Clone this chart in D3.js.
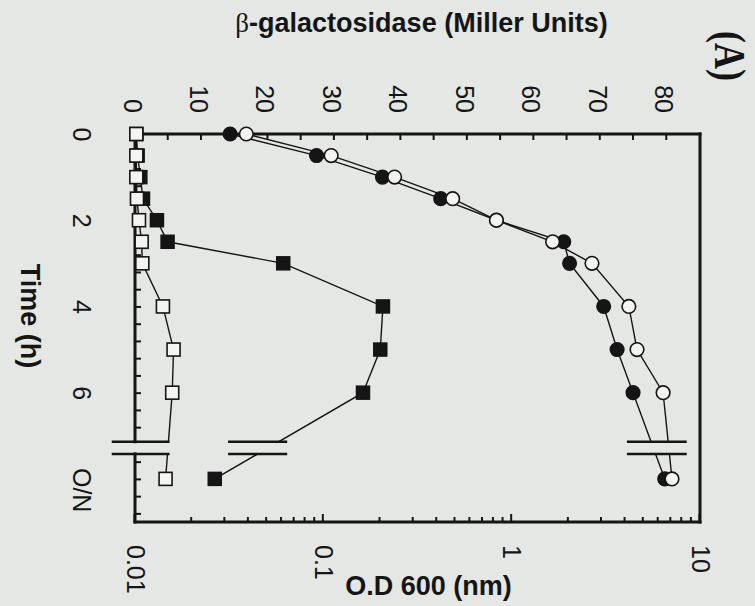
<!DOCTYPE html>
<html><head><meta charset="utf-8">
<script src="https://cdn.jsdelivr.net/npm/d3@7"></script>
<style>html,body{margin:0;padding:0;background:#e4e7e3;} svg{display:block;}</style>
</head><body>
<svg id="chart" width="755" height="606"></svg>
<script>
// ---- data ----
const times = [0, 0.5, 1, 1.5, 2, 2.5, 3, 4, 5, 6, 8];          // 8 = O/N
const odFilled = [0.032, 0.092, 0.206, 0.42, 0.83, 1.89, 2.03, 3.08, 3.63, 4.41, 6.5];
const odOpen   = [0.039, 0.110, 0.239, 0.486, 0.83, 1.65, 2.67, 4.19, 4.63, 6.37, 7.1];
const galFilled = [0.2, 0.4, 0.8, 1.2, 3.3, 4.9, 22.3, 37.3, 36.9, 34.3, 12.0];
const galOpen   = [0.2, 0.2, 0.2, 0.3, 0.6, 1.0, 1.1, 4.2, 5.8, 5.6, 4.6];
const timeLabels = ["0", "2", "4", "6", "O/N"];
const timeLabelPos = [0, 2, 4, 6, 8.25];
const galTickLabels = [0, 10, 20, 30, 40, 50, 60, 70, 80];
const odTickLabels = ["0.01", "0.1", "1", "10"];
const odMajor = [0.01, 0.1, 1, 10];

// ---- layout (original, unrotated orientation) ----
const svg = d3.select("#chart");
const g = svg.append("g").attr("transform", "translate(755,0) rotate(90)");
const L = 134, R = 522, T = 55, B = 620;
const xTime = d3.scaleLinear().domain([0, 9]).range([L, R]);
const yGal = d3.scaleLinear().domain([0, 85]).range([B, T]);
const yOD = d3.scaleLog().domain([0.01, 10]).range([B, T]);
const brA = 7.14, brB = 7.42;
const ink = "#151515";
const fontSans = "'Liberation Sans', Arial, sans-serif";

// clip for axis break
const defs = svg.append("defs");
const cp = defs.append("clipPath").attr("id", "brk");
cp.append("rect").attr("x", -100).attr("y", -100).attr("width", xTime(brA) + 100).attr("height", 1000);
cp.append("rect").attr("x", xTime(brB)).attr("y", -100).attr("width", 1000).attr("height", 1000);

// frame
const fw = 3;
const frame = g.append("g").attr("stroke", ink).attr("stroke-width", fw).attr("fill", "none").attr("stroke-linecap", "square");
frame.append("line").attr("x1", L).attr("x2", L).attr("y1", T).attr("y2", B);
frame.append("line").attr("x1", R).attr("x2", R).attr("y1", T).attr("y2", B);
frame.append("line").attr("x1", L).attr("x2", R).attr("y1", T).attr("y2", T);
frame.append("line").attr("x1", L).attr("x2", xTime(brA)).attr("y1", B).attr("y2", B);
frame.append("line").attr("x1", xTime(brB)).attr("x2", R).attr("y1", B).attr("y2", B);

// β-gal axis (left)
const galAxis = d3.axisLeft(yGal).tickValues(d3.range(0, 81, 5)).tickSize(-6).tickPadding(21)
  .tickFormat(d => galTickLabels.includes(d) ? String(d) : "");
const ga = g.append("g").attr("transform", `translate(${L},0)`).call(galAxis);
ga.select(".domain").remove();
ga.selectAll(".tick line").attr("stroke", ink).attr("stroke-width", 2);
ga.selectAll(".tick text").attr("y", 3).style("font-family", fontSans).style("font-size", "25px").attr("fill", ink);

// OD axis (right, log)
const odMinor = [];
[0.01, 0.1, 1].forEach(dec => { for (let k = 2; k <= 9; k++) odMinor.push(k * dec); });
const odAxis = d3.axisRight(yOD).tickValues(odMajor.concat(odMinor)).tickSize(-5).tickPadding(23)
  .tickFormat(d => { const i = odMajor.indexOf(d); return i >= 0 ? odTickLabels[i] : ""; });
const oa = g.append("g").attr("transform", `translate(${R},0)`).call(odAxis);
oa.select(".domain").remove();
oa.selectAll(".tick line").attr("stroke", ink).attr("stroke-width", 2)
  .attr("x2", d => odMajor.includes(d) ? -8 : -5);
oa.selectAll(".tick text").style("font-family", fontSans).style("font-size", "25px").attr("fill", ink);

// time axis (bottom)
const timeTickPos = d3.range(0, 18).map(i => i * 0.4).concat([19, 20, 21, 22].map(i => i * 0.4));
const ta = g.append("g").attr("transform", `translate(0,${B})`)
  .call(d3.axisBottom(xTime).tickValues(timeTickPos).tickSize(-6).tickFormat(""));
ta.select(".domain").remove();
ta.selectAll(".tick line").attr("stroke", ink).attr("stroke-width", 2);
const tl = g.append("g").attr("transform", `translate(0,${B})`)
  .call(d3.axisBottom(xTime).tickValues(timeLabelPos).tickSize(0).tickPadding(44)
    .tickFormat((d, i) => timeLabels[i]));
tl.select(".domain").remove();
tl.selectAll(".tick text").style("font-family", fontSans).style("font-size", "25px").attr("fill", ink);

// series lines (with break gap)
const lines = g.append("g").attr("clip-path", "url(#brk)").attr("fill", "none").attr("stroke", ink).attr("stroke-width", 1.4);
const lineGal = arr => d3.line().x((d, i) => xTime(times[i])).y(d => yGal(d))(arr);
const lineOD = arr => d3.line().x((d, i) => xTime(times[i])).y(d => yOD(d))(arr);
lines.append("path").attr("d", lineGal(galFilled));
lines.append("path").attr("d", lineGal(galOpen));
lines.append("path").attr("d", lineOD(odFilled));
lines.append("path").attr("d", lineOD(odOpen));

// break marks
const breaks = [[-3.5, 5.2], [14.0, 22.9], [74.0, 83.0]];
const bm = g.append("g").attr("stroke", ink).attr("stroke-width", 2.5);
breaks.forEach(([a, b]) => {
  [brA, brB].forEach(t => {
    bm.append("line").attr("x1", xTime(t)).attr("x2", xTime(t)).attr("y1", yGal(a)).attr("y2", yGal(b));
  });
});

// markers
const sq = 13;
g.append("g").selectAll("rect").data(galFilled).join("rect")
  .attr("x", (d, i) => xTime(times[i]) - sq / 2).attr("y", d => yGal(d) - sq / 2)
  .attr("width", sq).attr("height", sq).attr("fill", ink).attr("stroke", ink).attr("stroke-width", 1.5);
g.append("g").selectAll("rect").data(galOpen).join("rect")
  .attr("x", (d, i) => xTime(times[i]) - sq / 2).attr("y", d => yGal(d) - sq / 2)
  .attr("width", sq).attr("height", sq).attr("fill", "#f4f5f2").attr("stroke", ink).attr("stroke-width", 1.6);
g.append("g").selectAll("circle").data(odFilled).join("circle")
  .attr("cx", (d, i) => xTime(times[i])).attr("cy", d => yOD(d)).attr("r", 6.8)
  .attr("fill", ink).attr("stroke", ink).attr("stroke-width", 1.5);
g.append("g").selectAll("circle").data(odOpen).join("circle")
  .attr("cx", (d, i) => xTime(times[i])).attr("cy", d => yOD(d)).attr("r", 6.8)
  .attr("fill", "#f4f5f2").attr("stroke", ink).attr("stroke-width", 1.6);

// titles
const galTitle = g.append("text").attr("transform", `translate(32,${(T + B) / 2 - 4}) rotate(-90)`)
  .attr("text-anchor", "middle").style("font-family", fontSans).style("font-size", "27px")
  .style("font-weight", "bold").attr("fill", ink);
galTitle.append("tspan").style("font-family", "'Liberation Serif', serif").style("font-weight", "normal").text("β");
galTitle.append("tspan").text("-galactosidase (Miller Units)");

g.append("text").attr("transform", `translate(595,${(T + B) / 2 - 11}) rotate(-90)`)
  .attr("text-anchor", "middle").style("font-family", fontSans).style("font-size", "27px")
  .style("font-weight", "bold").attr("fill", ink).text("O.D 600 (nm)");

g.append("text").attr("x", 316).attr("y", 734).attr("text-anchor", "middle")
  .style("font-family", fontSans).style("font-size", "27px").style("font-weight", "bold")
  .attr("fill", ink).text("Time (h)");

g.append("text").attr("transform", "translate(56,40) scale(0.82,1)").attr("text-anchor", "middle")
  .style("font-family", "'Liberation Serif', 'Times New Roman', serif").style("font-size", "44px")
  .style("font-weight", "bold").attr("fill", ink).text("(A)");
</script>
</body></html>
